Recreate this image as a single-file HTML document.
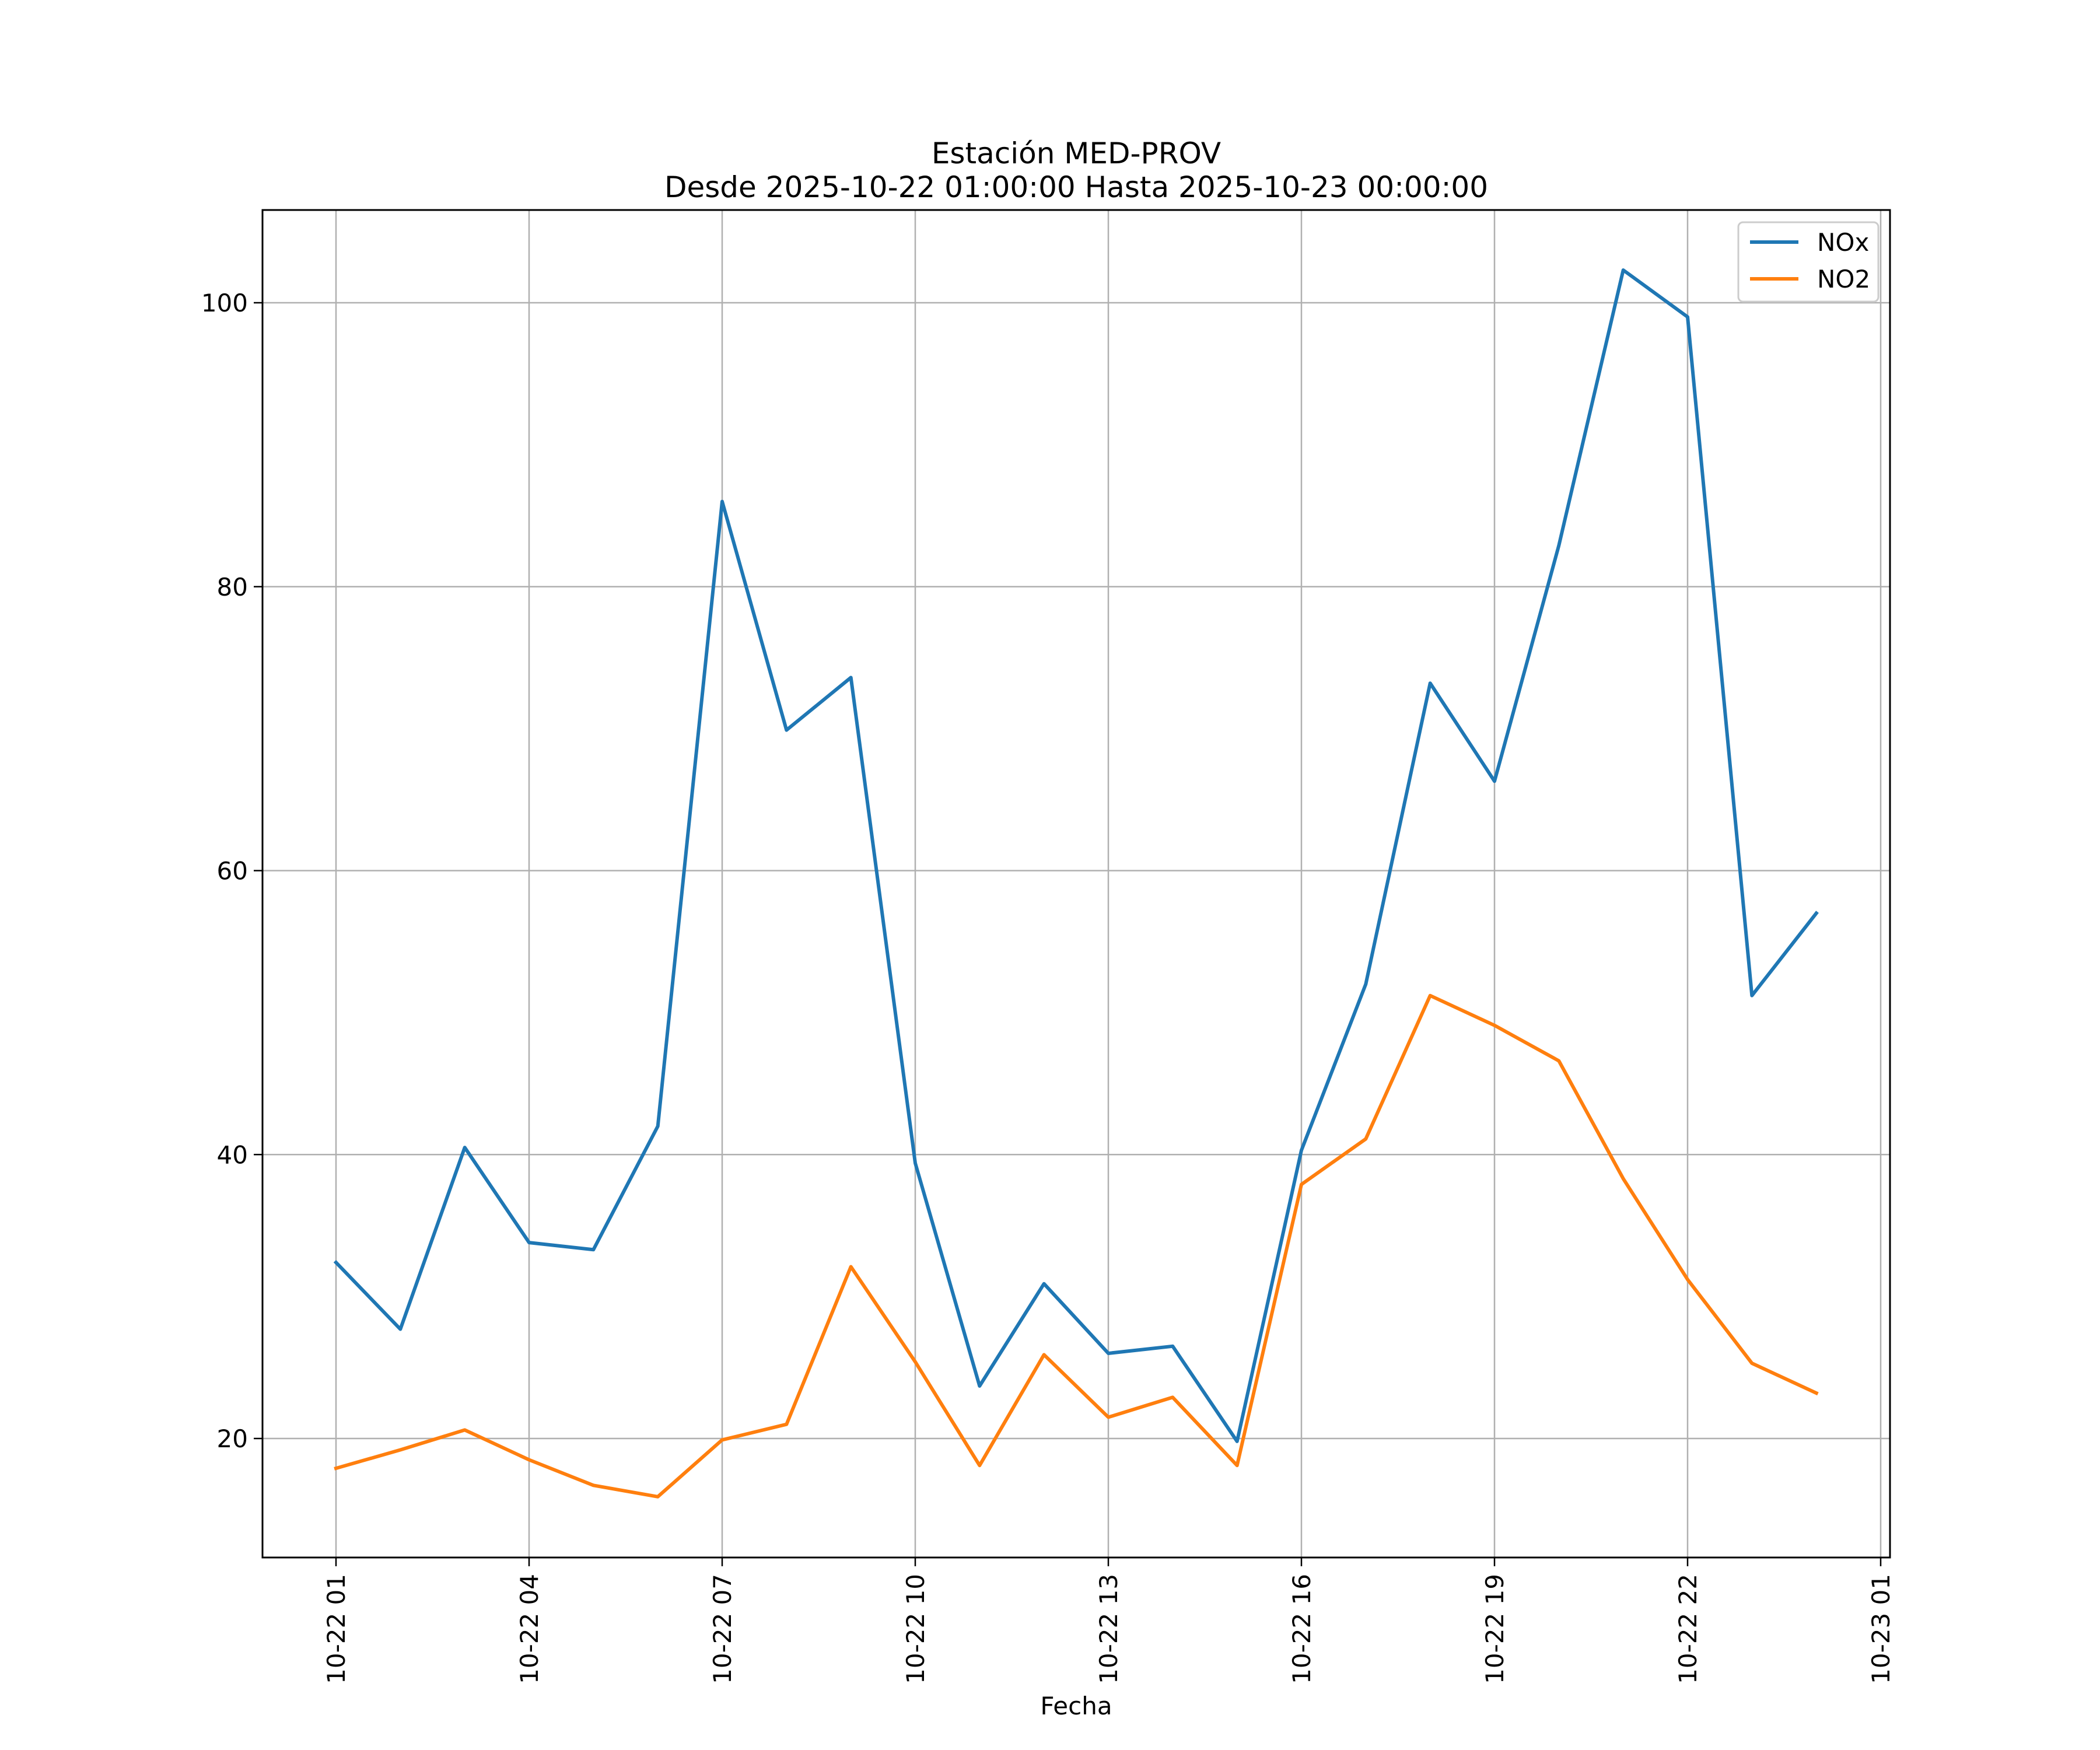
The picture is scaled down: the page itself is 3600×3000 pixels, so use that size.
<!DOCTYPE html>
<html><head><meta charset="utf-8"><style>
html,body{margin:0;padding:0;background:#fff;}
svg{display:block;font-family:"DejaVu Sans","Liberation Sans",sans-serif;}
</style></head><body>
<svg id="chart" width="3600" height="3000" viewBox="0 0 3600 3000" xmlns="http://www.w3.org/2000/svg">
<rect width="3600" height="3000" fill="#fff"/>
<text x="1845" y="280" font-size="50" text-anchor="middle">Estación MED-PROV</text>
<text x="1845" y="338" font-size="50" text-anchor="middle">Desde 2025-10-22 01:00:00 Hasta 2025-10-23 00:00:00</text>
<g id="grid"></g>
<g id="series"></g>
<rect x="450" y="360" width="2790" height="2310" fill="none" stroke="#000" stroke-width="3"/>
<g id="axes"></g>
<text x="1845" y="2939" font-size="42" text-anchor="middle">Fecha</text>
<g>
<rect x="2980" y="381" width="240" height="136" rx="8" fill="#fff" fill-opacity="0.8" stroke="#ccc" stroke-width="3"/>
<line x1="3000" y1="415" x2="3083" y2="415" stroke="#1f77b4" stroke-width="6"/>
<text x="3115" y="430" font-size="42">NOx</text>
<line x1="3000" y1="478" x2="3083" y2="478" stroke="#ff7f0e" stroke-width="6"/>
<text x="3115" y="493" font-size="42">NO2</text>
</g>
</svg>
<script>
const hours = [1,2,3,4,5,6,7,8,9,10,11,12,13,14,15,16,17,18,19,20,21,22,23,24];
const noxValues = [32.4,27.7,40.5,33.8,33.3,42.0,86.0,69.9,73.6,39.4,23.7,30.9,26.0,26.5,19.8,40.3,52.0,73.2,66.3,82.9,102.3,99.0,51.2,57.0];
const no2Values = [17.9,19.2,20.6,18.5,16.7,15.9,19.9,21.0,32.1,25.4,18.1,25.9,21.5,22.9,18.1,37.9,41.1,51.2,49.1,46.6,38.3,31.2,25.3,23.2];
const xTickHours = [1,4,7,10,13,16,19,22,25];
const xTickLabels = ["10-22 01","10-22 04","10-22 07","10-22 10","10-22 13","10-22 16","10-22 19","10-22 22","10-23 01"];
const yTicks = [20,40,60,80,100];

const NS="http://www.w3.org/2000/svg";
function xScale(h){return 576+(h-1)*(3224-576)/24;}
function yScale(v){return 2466-(v-20)*(2466-519)/80;}
function mk(tag,attrs,parent){const e=document.createElementNS(NS,tag);for(const k in attrs)e.setAttribute(k,attrs[k]);parent.appendChild(e);return e;}
const grid=document.getElementById('grid'),axes=document.getElementById('axes'),series=document.getElementById('series');
xTickHours.forEach((h,i)=>{
  const x=xScale(h);
  const g=mk('line',{x1:x,x2:x,y1:360,y2:2670,stroke:'#b0b0b0','stroke-width':2.5},grid);
  
  
  const t=mk('line',{x1:x,x2:x,y1:2670,y2:2685,stroke:'#000','stroke-width':2.5},axes);
  
  
  const l=mk('text',{transform:`translate(${x+15},2698) rotate(-90)`,'font-size':42,'text-anchor':'end'},axes);
  l.textContent=xTickLabels[i];
  
  
});
yTicks.forEach(v=>{
  const y=yScale(v);
  const g=mk('line',{x1:450,x2:3240,y1:y,y2:y,stroke:'#b0b0b0','stroke-width':2.5},grid);
  
  
  const t=mk('line',{x1:435,x2:450,y1:y,y2:y,stroke:'#000','stroke-width':2.5},axes);
  
  
  const l=mk('text',{x:425,y:y+15,'font-size':42,'text-anchor':'end'},axes);
  l.textContent=v;
  
  
});
function drawLine(vals,color,name){
  const pts=vals.map((v,i)=>xScale(hours[i]).toFixed(1)+','+yScale(v).toFixed(1)).join(' ');
  const p=mk('polyline',{points:pts,fill:'none',stroke:color,'stroke-width':6,'stroke-linejoin':'round','stroke-linecap':'square'},series);
  
  
}
drawLine(noxValues,'#1f77b4','nox-line');
drawLine(no2Values,'#ff7f0e','no2-line');
</script>
</body></html>
